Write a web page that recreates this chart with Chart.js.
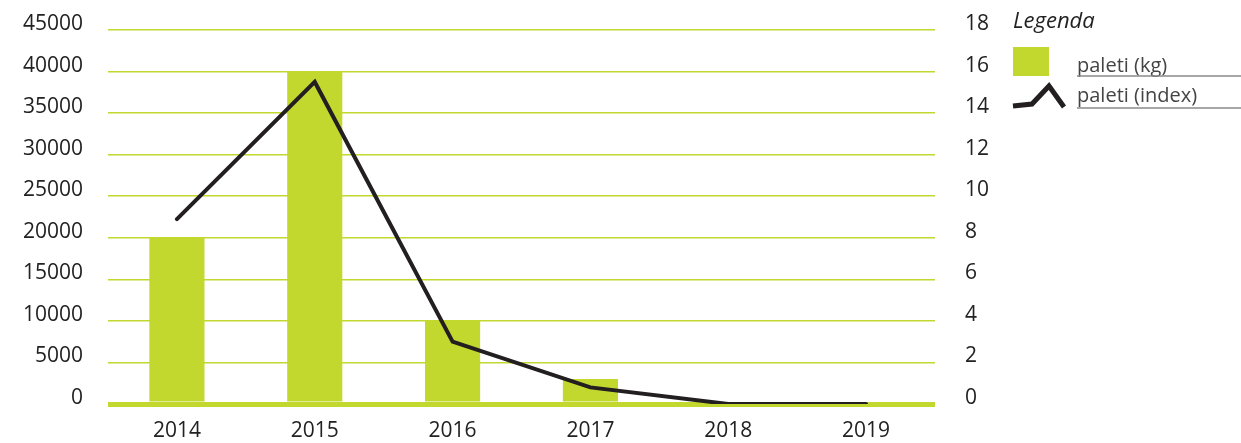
<!DOCTYPE html>
<html>
<head>
<meta charset="utf-8">
<script src="https://cdn.jsdelivr.net/npm/chart.js@4"></script>
<style>
html,body{margin:0;padding:0;background:#fff;}
#wrap{width:1241px;height:443px;position:relative;}
</style>
</head>
<body>
<div id="wrap"><canvas id="chart" width="1241" height="443"></canvas></div>
<script>
// === data ===
const years=['2014','2015','2016','2017','2018','2019'];
const kgValues=[20000,40000,10000,3000,0,0];
const indexValues=[8.9,15.5,3,0.8,0,0];
const seriesNames=['paleti (kg)','paleti (index)'];
const legendTitle='Legenda';

const GREEN='#c2d82e';
const DARK='#231f20';
const FONT='"Open Sans", sans-serif';

// === legend drawn on canvas ===
const legendPlugin={
  id:'sideLegend',
  afterDraw(chart){
    const c=chart.ctx;
    c.save();
    c.fillStyle='#222';
    c.font='italic 22px '+FONT;
    c.textBaseline='alphabetic';
    c.fillText(legendTitle,1013,28);

    c.fillStyle=GREEN;
    c.fillRect(1013,47,36,29);

    c.strokeStyle=DARK;c.lineWidth=5;c.lineJoin='miter';
    c.beginPath();
    c.moveTo(1013,106);c.lineTo(1032,104);c.lineTo(1049,86);c.lineTo(1064,107);
    c.stroke();

    c.fillStyle='#444';
    c.font='20px '+FONT;
    c.fillText(seriesNames[0],1077,72);
    c.fillText(seriesNames[1],1077,102);
    c.strokeStyle='#8a8a8a';c.lineWidth=1.5;
    c.beginPath();
    c.moveTo(1077,76);c.lineTo(1241,76);
    c.moveTo(1077,108);c.lineTo(1241,108);
    c.stroke();
    c.restore();
  }
};

// no extra label padding on the value axes
function fitY(w){
  return s=>{s.width=w;s.paddingTop=0;s.paddingBottom=0;};
}

new Chart(document.getElementById('chart'),{
  data:{
    labels:years,
    datasets:[
      {type:'line',label:seriesNames[1],data:indexValues,yAxisID:'y1',
       borderColor:DARK,borderWidth:4,pointRadius:0,tension:0,order:0,
       borderCapStyle:'round',borderJoinStyle:'miter'},
      {type:'bar',label:seriesNames[0],data:kgValues,yAxisID:'y',
       backgroundColor:GREEN,categoryPercentage:1,barPercentage:0.4,order:1}
    ]
  },
  options:{
    responsive:false,
    animation:false,
    layout:{padding:{top:30,bottom:0,left:0,right:0}},
    plugins:{legend:{display:false},tooltip:{enabled:false}},
    scales:{
      x:{
        grid:{display:false,drawTicks:false},
        border:{display:false},
        ticks:{color:'#222',font:{family:FONT,size:21},padding:14},
        afterFit(s){s.height=39;s.paddingLeft=0;s.paddingRight=0;}
      },
      y:{
        position:'left',min:0,max:45000,
        ticks:{stepSize:5000,color:'#222',font:{family:FONT,size:21},padding:25,labelOffset:-6,
               callback:v=>String(v)},
        grid:{color:GREEN,lineWidth:ctx=>ctx.tick&&ctx.tick.value===0?5:1.5,drawTicks:false},
        border:{display:false},
        afterFit:fitY(108)
      },
      y1:{
        position:'right',min:0,max:18,
        ticks:{stepSize:2,color:'#222',font:{family:FONT,size:21},padding:30,labelOffset:-6},
        grid:{display:false,drawTicks:false},
        border:{display:false},
        afterFit:fitY(306)
      }
    }
  },
  plugins:[legendPlugin]
});
</script>
</body>
</html>
